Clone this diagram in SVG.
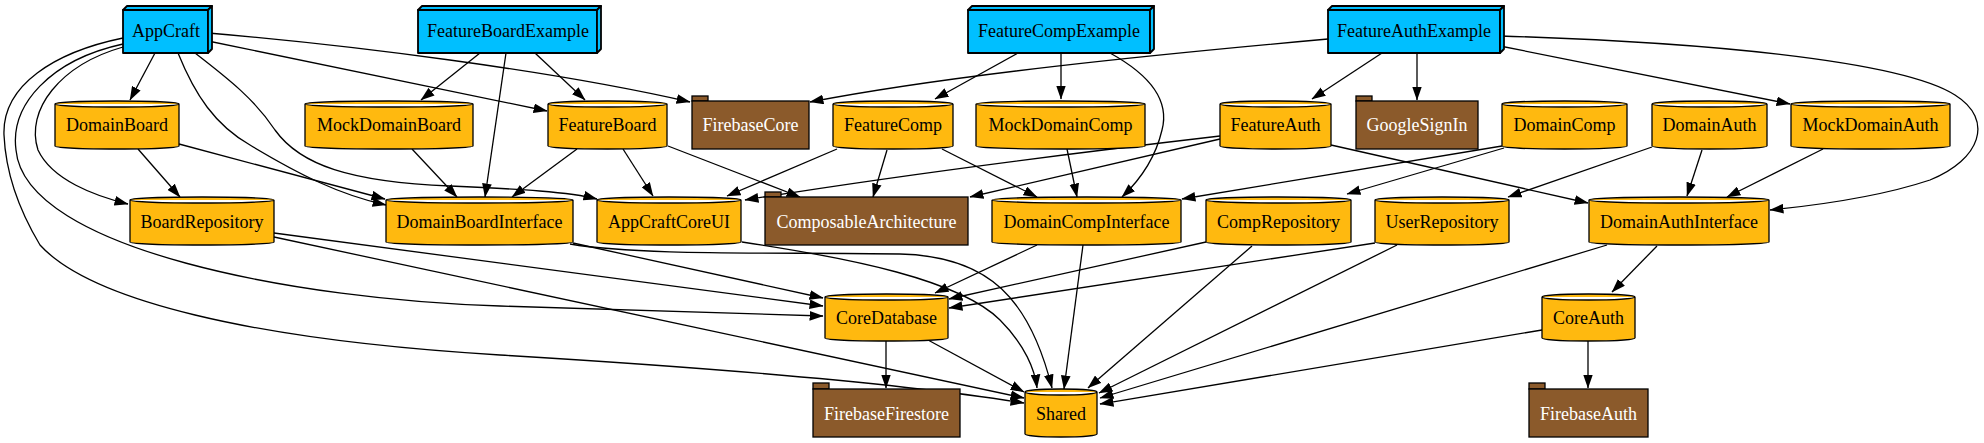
<svg xmlns="http://www.w3.org/2000/svg" width="1984" height="443" viewBox="0 0 1984 443">
<style>
.t{font-family:"Liberation Serif","Times New Roman",serif;font-size:18px;text-anchor:middle;fill:#000}
.w{fill:#ffffff}
.b3{fill:#00bfff;stroke:#000;stroke-width:1.8;stroke-linejoin:round}
.cy{fill:#ffb90f;stroke:#000;stroke-width:1.3}
.pk{fill:#8b5a2b;stroke:#000;stroke-width:1.3}
.e{fill:none;stroke:#000;stroke-width:1.3;marker-end:url(#ah)}
</style>
<defs>
<marker id="ah" markerUnits="userSpaceOnUse" markerWidth="14" markerHeight="10" viewBox="0 0 13 9" refX="12.5" refY="4.5" orient="auto">
<path d="M0,0 L13,4.5 L0,9 z" fill="#000"/>
</marker>
</defs>
<rect width="1984" height="443" fill="#fff"/>
<g id="edges">
<path class="e" d="M155,53 L130,100"/>
<path class="e" d="M123,47 C60,65 25,110 38,150 C52,180 95,196 128,204"/>
<path class="e" d="M123,44 C50,60 10,105 16,150 C25,250 300,300 500,306 C650,311 760,315 823,316"/>
<path class="e" d="M123,38 C55,52 2,85 4,135 C6,180 25,220 40,245 C90,300 250,340 500,355 C700,367 900,383 1024,403"/>
<path class="e" d="M178,53 C195,95 215,125 250,145 C300,175 340,195 386,205"/>
<path class="e" d="M195,53 C230,80 255,100 275,130 C300,165 350,182 450,186 C520,189 570,192 597,199"/>
<path class="e" d="M208,41 L547,111"/>
<path class="e" d="M208,33 C350,45 550,70 690,102"/>
<path class="e" d="M179,144 L385,199"/>
<path class="e" d="M138,149 L180,197"/>
<path class="e" d="M480,53 L421,100"/>
<path class="e" d="M506,53 L485,197"/>
<path class="e" d="M535,53 L585,100"/>
<path class="e" d="M412,149 L457,197"/>
<path class="e" d="M577,149 L512,197"/>
<path class="e" d="M623,149 L653,196"/>
<path class="e" d="M668,146 L800,197"/>
<path class="e" d="M837,149 L727,196"/>
<path class="e" d="M887,150 L873,197"/>
<path class="e" d="M942,149 L1037,197"/>
<path class="e" d="M1018,53 L935,99"/>
<path class="e" d="M1061,53 L1061,99"/>
<path class="e" d="M1110,53 C1150,75 1170,100 1162,130 C1155,160 1140,180 1122,197"/>
<path class="e" d="M1067,149 L1077,197"/>
<path class="e" d="M1328,39 C1150,55 950,75 810,102"/>
<path class="e" d="M1382,53 L1312,99"/>
<path class="e" d="M1417,53 L1417,100"/>
<path class="e" d="M1500,46 L1790,104"/>
<path class="e" d="M1500,36 C1700,42 1900,60 1955,95 C1995,120 1980,160 1930,180 C1870,200 1800,207 1770,210"/>
<path class="e" d="M1220,139 L970,197"/>
<path class="e" d="M1220,136 C1100,150 900,175 745,200"/>
<path class="e" d="M1331,145 L1588,203"/>
<path class="e" d="M1502,146 L1182,199"/>
<path class="e" d="M1504,148 L1347,194"/>
<path class="e" d="M1652,147 L1508,197"/>
<path class="e" d="M1702,150 L1687,196"/>
<path class="e" d="M1823,149 L1727,197"/>
<path class="e" d="M274,233 L823,306"/>
<path class="e" d="M274,237 L1024,398"/>
<path class="e" d="M573,243 L823,298"/>
<path class="e" d="M570,244 C640,256 780,252 900,254 C990,256 1030,300 1052,388"/>
<path class="e" d="M742,242 C850,258 960,280 1000,320 C1025,345 1035,370 1037,388"/>
<path class="e" d="M1037,245 L935,293"/>
<path class="e" d="M1083,245 L1064,389"/>
<path class="e" d="M1206,242 L949,299"/>
<path class="e" d="M1252,246 L1088,388"/>
<path class="e" d="M1375,243 L949,308"/>
<path class="e" d="M1397,245 L1099,393"/>
<path class="e" d="M1607,245 L1100,398"/>
<path class="e" d="M1657,246 L1612,292"/>
<path class="e" d="M928,340 L1024,392"/>
<path class="e" d="M886,341 L886,388"/>
<path class="e" d="M1542,330 C1400,355 1250,380 1100,404"/>
<path class="e" d="M1588,341 L1588,388"/>
</g>
<g id="AppCraft">
<rect class="b3" x="123" y="10" width="85" height="43"/>
<polygon class="b3" points="123,10 127,6 212,6 208,10"/>
<polygon class="b3" points="208,10 212,6 212,49 208,53"/>
<text class="t" x="166" y="37">AppCraft</text>
</g>
<g id="FeatureBoardExample">
<rect class="b3" x="418" y="10" width="179" height="43"/>
<polygon class="b3" points="418,10 422,6 601,6 597,10"/>
<polygon class="b3" points="597,10 601,6 601,49 597,53"/>
<text class="t" x="508" y="37">FeatureBoardExample</text>
</g>
<g id="FeatureCompExample">
<rect class="b3" x="968" y="10" width="182" height="43"/>
<polygon class="b3" points="968,10 972,6 1154,6 1150,10"/>
<polygon class="b3" points="1150,10 1154,6 1154,49 1150,53"/>
<text class="t" x="1059" y="37">FeatureCompExample</text>
</g>
<g id="FeatureAuthExample">
<rect class="b3" x="1328" y="10" width="172" height="43"/>
<polygon class="b3" points="1328,10 1332,6 1504,6 1500,10"/>
<polygon class="b3" points="1500,10 1504,6 1504,49 1500,53"/>
<text class="t" x="1414" y="37">FeatureAuthExample</text>
</g>
<g id="DomainBoard">
<path class="cy" d="M55,104 A62,3 0 0 1 179,104 L179,146 A62,3 0 0 1 55,146 Z M55,104 A62,3 0 0 0 179,104"/>
<text class="t" x="117" y="131">DomainBoard</text>
</g>
<g id="MockDomainBoard">
<path class="cy" d="M305,104 A84,3 0 0 1 473,104 L473,146 A84,3 0 0 1 305,146 Z M305,104 A84,3 0 0 0 473,104"/>
<text class="t" x="389" y="131">MockDomainBoard</text>
</g>
<g id="FeatureBoard">
<path class="cy" d="M548,104 A59.5,3 0 0 1 667,104 L667,146 A59.5,3 0 0 1 548,146 Z M548,104 A59.5,3 0 0 0 667,104"/>
<text class="t" x="607.5" y="131">FeatureBoard</text>
</g>
<g id="FirebaseCore">
<rect class="pk" x="692" y="96" width="16" height="5"/>
<rect class="pk" x="692" y="101" width="117" height="48"/>
<text class="t w" x="750.5" y="131">FirebaseCore</text>
</g>
<g id="FeatureComp">
<path class="cy" d="M833,104 A60,3 0 0 1 953,104 L953,146 A60,3 0 0 1 833,146 Z M833,104 A60,3 0 0 0 953,104"/>
<text class="t" x="893" y="131">FeatureComp</text>
</g>
<g id="MockDomainComp">
<path class="cy" d="M976,104 A84.5,3 0 0 1 1145,104 L1145,146 A84.5,3 0 0 1 976,146 Z M976,104 A84.5,3 0 0 0 1145,104"/>
<text class="t" x="1060.5" y="131">MockDomainComp</text>
</g>
<g id="FeatureAuth">
<path class="cy" d="M1220,104 A55.5,3 0 0 1 1331,104 L1331,146 A55.5,3 0 0 1 1220,146 Z M1220,104 A55.5,3 0 0 0 1331,104"/>
<text class="t" x="1275.5" y="131">FeatureAuth</text>
</g>
<g id="GoogleSignIn">
<rect class="pk" x="1356" y="96" width="16" height="5"/>
<rect class="pk" x="1356" y="101" width="122" height="48"/>
<text class="t w" x="1417" y="131">GoogleSignIn</text>
</g>
<g id="DomainComp">
<path class="cy" d="M1502,104 A62.5,3 0 0 1 1627,104 L1627,146 A62.5,3 0 0 1 1502,146 Z M1502,104 A62.5,3 0 0 0 1627,104"/>
<text class="t" x="1564.5" y="131">DomainComp</text>
</g>
<g id="DomainAuth">
<path class="cy" d="M1652,104 A57.5,3 0 0 1 1767,104 L1767,146 A57.5,3 0 0 1 1652,146 Z M1652,104 A57.5,3 0 0 0 1767,104"/>
<text class="t" x="1709.5" y="131">DomainAuth</text>
</g>
<g id="MockDomainAuth">
<path class="cy" d="M1791,104 A79.5,3 0 0 1 1950,104 L1950,146 A79.5,3 0 0 1 1791,146 Z M1791,104 A79.5,3 0 0 0 1950,104"/>
<text class="t" x="1870.5" y="131">MockDomainAuth</text>
</g>
<g id="BoardRepository">
<path class="cy" d="M130,200 A72,3 0 0 1 274,200 L274,242 A72,3 0 0 1 130,242 Z M130,200 A72,3 0 0 0 274,200"/>
<text class="t" x="202" y="228">BoardRepository</text>
</g>
<g id="DomainBoardInterface">
<path class="cy" d="M386,200 A93.5,3 0 0 1 573,200 L573,242 A93.5,3 0 0 1 386,242 Z M386,200 A93.5,3 0 0 0 573,200"/>
<text class="t" x="479.5" y="228">DomainBoardInterface</text>
</g>
<g id="AppCraftCoreUI">
<path class="cy" d="M597,200 A72,3 0 0 1 741,200 L741,242 A72,3 0 0 1 597,242 Z M597,200 A72,3 0 0 0 741,200"/>
<text class="t" x="669" y="228">AppCraftCoreUI</text>
</g>
<g id="ComposableArchitecture">
<rect class="pk" x="765" y="192" width="16" height="5"/>
<rect class="pk" x="765" y="197" width="203" height="48"/>
<text class="t w" x="866.5" y="228">ComposableArchitecture</text>
</g>
<g id="DomainCompInterface">
<path class="cy" d="M992,200 A94.5,3 0 0 1 1181,200 L1181,242 A94.5,3 0 0 1 992,242 Z M992,200 A94.5,3 0 0 0 1181,200"/>
<text class="t" x="1086.5" y="228">DomainCompInterface</text>
</g>
<g id="CompRepository">
<path class="cy" d="M1206,200 A72.5,3 0 0 1 1351,200 L1351,242 A72.5,3 0 0 1 1206,242 Z M1206,200 A72.5,3 0 0 0 1351,200"/>
<text class="t" x="1278.5" y="228">CompRepository</text>
</g>
<g id="UserRepository">
<path class="cy" d="M1375,200 A67,3 0 0 1 1509,200 L1509,242 A67,3 0 0 1 1375,242 Z M1375,200 A67,3 0 0 0 1509,200"/>
<text class="t" x="1442" y="228">UserRepository</text>
</g>
<g id="DomainAuthInterface">
<path class="cy" d="M1589,200 A90,3 0 0 1 1769,200 L1769,242 A90,3 0 0 1 1589,242 Z M1589,200 A90,3 0 0 0 1769,200"/>
<text class="t" x="1679" y="228">DomainAuthInterface</text>
</g>
<g id="CoreDatabase">
<path class="cy" d="M825,297 A61.5,3 0 0 1 948,297 L948,338 A61.5,3 0 0 1 825,338 Z M825,297 A61.5,3 0 0 0 948,297"/>
<text class="t" x="886.5" y="324">CoreDatabase</text>
</g>
<g id="CoreAuth">
<path class="cy" d="M1542,297 A46.5,3 0 0 1 1635,297 L1635,338 A46.5,3 0 0 1 1542,338 Z M1542,297 A46.5,3 0 0 0 1635,297"/>
<text class="t" x="1588.5" y="324">CoreAuth</text>
</g>
<g id="FirebaseFirestore">
<rect class="pk" x="813" y="383" width="16" height="6"/>
<rect class="pk" x="813" y="389" width="147" height="48"/>
<text class="t w" x="886.5" y="420">FirebaseFirestore</text>
</g>
<g id="Shared">
<path class="cy" d="M1025,392 A36,3 0 0 1 1097,392 L1097,434 A36,3 0 0 1 1025,434 Z M1025,392 A36,3 0 0 0 1097,392"/>
<text class="t" x="1061" y="420">Shared</text>
</g>
<g id="FirebaseAuth">
<rect class="pk" x="1529" y="383" width="16" height="6"/>
<rect class="pk" x="1529" y="389" width="119" height="48"/>
<text class="t w" x="1588.5" y="420">FirebaseAuth</text>
</g>
</svg>
